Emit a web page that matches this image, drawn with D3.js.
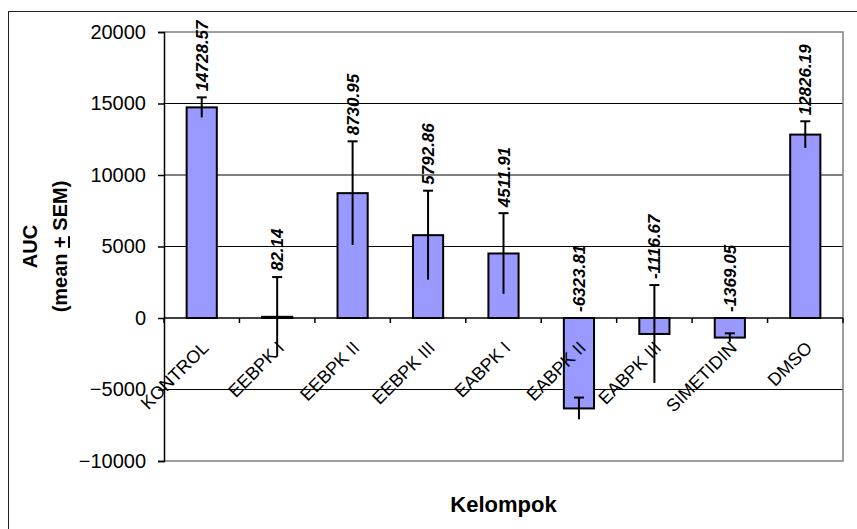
<!DOCTYPE html>
<html lang="id">
<head>
    <meta charset="UTF-8">
    <title>AUC per Kelompok</title>
    <script src="https://d3js.org/d3.v7.min.js"></script>
    <style>
        body { margin: 0; background: #fff; }
        svg text { font-family: "Liberation Sans", Arial, sans-serif; }
    </style>
</head>
<body>
    <svg id="chart" width="857" height="529"></svg>

    <script>
        // Data
        const kelompok = ["KONTROL", "EEBPK I", "EEBPK II", "EEBPK III", "EABPK I",
                          "EABPK II", "EABPK III", "SIMETIDIN", "DMSO"];
        const auc = [14728.57, 82.14, 8730.95, 5792.86, 4511.91,
                     -6323.81, -1116.67, -1369.05, 12826.19];
        const sem = [700, 2780, 3625, 3110, 2820, 760, 3420, 300, 930];
        const yTicks = [-10000, -5000, 0, 5000, 10000, 15000, 20000];

        const data = kelompok.map((k, i) => ({k: k, v: auc[i], e: sem[i]}));

        // Area plot
        const plot = {left: 164, right: 843, top: 32, bottom: 461};

        const svg = d3.select("#chart");

        // Bingkai luar
        svg.append("rect")
           .attr("x", 8.5).attr("y", 11.5)
           .attr("width", 900).attr("height", 600)
           .attr("fill", "none")
           .attr("stroke", "#222")
           .attr("stroke-width", 1);

        // Skala
        const x = d3.scaleBand()
                    .domain(kelompok)
                    .range([plot.left, plot.right])
                    .paddingInner(0.6)
                    .paddingOuter(0.3);
        const y = d3.scaleLinear()
                    .domain([yTicks[0], yTicks[yTicks.length - 1]])
                    .range([plot.bottom, plot.top]);
        const step = x.step();

        // Garis grid
        svg.append("g")
           .selectAll("line")
           .data(yTicks.filter(t => t !== 0 && t !== yTicks[0] && t !== yTicks[yTicks.length - 1]))
           .join("line")
           .attr("x1", plot.left).attr("x2", plot.right)
           .attr("y1", d => y(d)).attr("y2", d => y(d))
           .attr("stroke", "#000")
           .attr("stroke-width", 1);

        // Bingkai area plot (abu-abu)
        svg.append("path")
           .attr("d", `M${plot.left},${y(yTicks[yTicks.length - 1])}H${plot.right}V${y(yTicks[0])}H${plot.left}`)
           .attr("fill", "none")
           .attr("stroke", "#808080")
           .attr("stroke-width", 1.5);

        // Sumbu Y
        const yAxis = svg.append("g")
           .attr("transform", `translate(${plot.left},0)`)
           .call(d3.axisLeft(y).tickValues(yTicks).tickSize(6).tickPadding(12).tickFormat(d3.format("d")));
        yAxis.select(".domain").attr("stroke", "#000").attr("stroke-width", 1.5);
        yAxis.selectAll(".tick line").attr("stroke", "#000").attr("stroke-width", 1.5);
        yAxis.selectAll(".tick text")
             .attr("font-size", "20px")
             .attr("fill", "#000")
             .style("font-family", "'Liberation Sans', Arial, sans-serif");

        // Batang
        svg.append("g")
           .selectAll("rect")
           .data(data)
           .join("rect")
           .attr("x", d => x(d.k))
           .attr("y", d => y(Math.max(0, d.v)))
           .attr("width", x.bandwidth())
           .attr("height", d => Math.abs(y(d.v) - y(0)))
           .attr("fill", "#9999FF")
           .attr("stroke", "#000")
           .attr("stroke-width", 2);

        // Sumbu X (garis nol + tick di batas kategori)
        svg.append("line")
           .attr("x1", plot.left).attr("x2", plot.right)
           .attr("y1", y(0)).attr("y2", y(0))
           .attr("stroke", "#000")
           .attr("stroke-width", 1.5);
        svg.append("g")
           .selectAll("line")
           .data(d3.range(kelompok.length + 1))
           .join("line")
           .attr("x1", i => plot.left + i * step).attr("x2", i => plot.left + i * step)
           .attr("y1", y(0)).attr("y2", y(0) + 5)
           .attr("stroke", "#000")
           .attr("stroke-width", 1.5);

        // Error bar (hanya cap atas)
        const eb = svg.append("g").attr("stroke", "#000").attr("stroke-width", 2);
        data.forEach(d => {
            const cx = x(d.k) + x.bandwidth() / 2;
            eb.append("line")
              .attr("x1", cx).attr("x2", cx)
              .attr("y1", y(d.v - d.e)).attr("y2", y(d.v + d.e));
            eb.append("line")
              .attr("x1", cx - 5).attr("x2", cx + 5)
              .attr("y1", y(d.v + d.e)).attr("y2", y(d.v + d.e));
        });

        // Label nilai
        svg.append("g")
           .selectAll("text")
           .data(data)
           .join("text")
           .attr("transform", d => `translate(${x(d.k) + x.bandwidth() / 2 + 6},${y(Math.max(0, d.v + d.e)) - 6}) rotate(-90)`)
           .attr("text-anchor", "start")
           .attr("font-size", "17px")
           .attr("font-weight", "bold")
           .attr("font-style", "italic")
           .text(d => d.v.toFixed(2));

        // Label kategori
        svg.append("g")
           .selectAll("text")
           .data(kelompok)
           .join("text")
           .attr("transform", d => `translate(${x(d) + x.bandwidth() / 2 + 8},${y(0) + 31}) rotate(-45)`)
           .attr("text-anchor", "end")
           .attr("font-size", "18px")
           .text(d => d);

        // Judul sumbu X
        svg.append("text")
           .attr("x", (plot.left + plot.right) / 2)
           .attr("y", 512)
           .attr("text-anchor", "middle")
           .attr("font-size", "22px")
           .attr("font-weight", "bold")
           .text("Kelompok");

        // Judul sumbu Y
        const yTitle = svg.append("text")
           .attr("transform", `translate(0,${(plot.top + plot.bottom) / 2}) rotate(-90)`)
           .attr("text-anchor", "middle")
           .attr("font-size", "20px")
           .attr("font-weight", "bold");
        yTitle.append("tspan").attr("x", 0).attr("y", 37).text("AUC");
        const l2 = yTitle.append("tspan").attr("x", 0).attr("y", 67);
        l2.append("tspan").text("(mean ");
        l2.append("tspan").attr("text-decoration", "underline").text("+");
        l2.append("tspan").text(" SEM)");
    </script>
</body>
</html>
